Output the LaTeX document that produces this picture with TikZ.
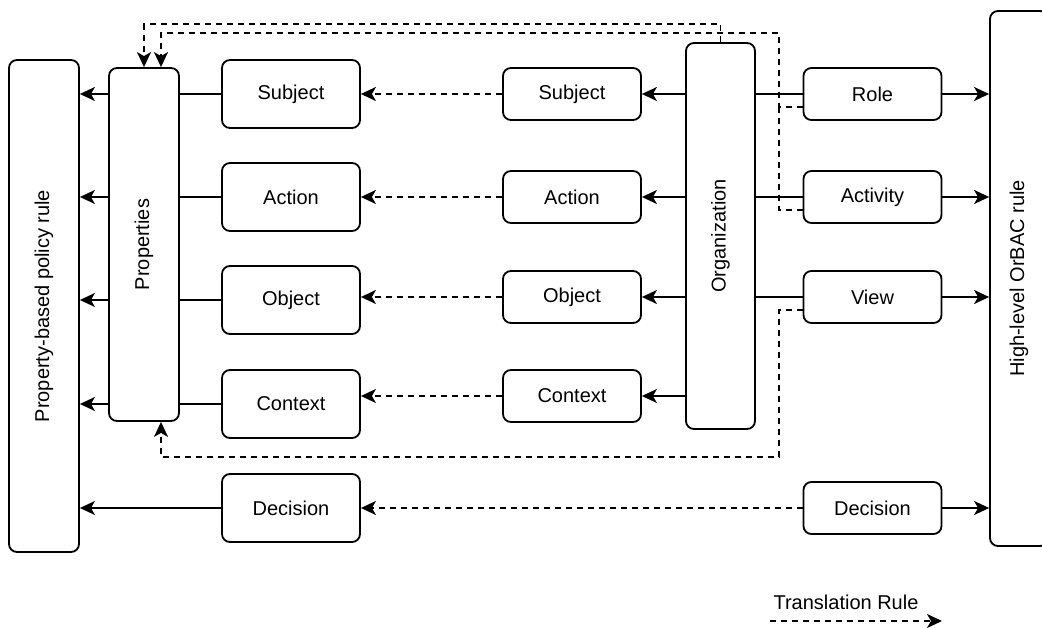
\documentclass[tikz,border=0pt]{standalone}
\usepackage{fontspec}
\setmainfont{Liberation Sans}
\usepackage{graphicx}
\usetikzlibrary{arrows.meta, positioning}

\begin{document}
\begin{tikzpicture}[x=1pt, y=-1pt, line width=1.8pt,
		box/.style={draw, rounded corners=8pt, inner sep=0pt, font=\fontsize{20}{24}\selectfont},
		item/.style={box, minimum width=138pt, minimum height=68pt},
		small/.style={box, minimum width=138pt, minimum height=52pt},
		column/.style={box, minimum width=70pt},
		link/.style={-{Stealth[length=15pt, width=14pt, inset=4pt]}},
		trans/.style={link, dash pattern=on 6pt off 5pt}]
				\useasboundingbox (0,0) rectangle (1042,628);

				\node[column, minimum height=492pt] (rule) at (44,306) {\rotatebox{90}{Property-based policy rule}};
				\node[column, minimum height=353pt] (props) at (144,244.5) {\rotatebox{90}{Properties}};
				\node[item] (lsub) at (291,94) {Subject};
				\node[item] (lact) at (291,197) {Action};
				\node[item] (lobj) at (291,300) {Object};
				\node[item] (lctx) at (291,404) {Context};
				\node[item] (ldec) at (291,508) {Decision};

				\node[small] (rsub) at (572,94) {Subject};
				\node[small] (ract) at (572,197) {Action};
				\node[small] (robj) at (572,297) {Object};
				\node[small] (rctx) at (572,396) {Context};
				\node[column, minimum width=69pt, minimum height=386pt] (org) at (720.5,236) {\rotatebox{90}{Organization}};

				\node[small] (role) at (872.5,94) {Role};
				\node[small] (act) at (872.5,197) {Activity};
				\node[small] (view) at (872.5,297) {View};
				\node[small] (rdec) at (872.5,508) {Decision};
				\node[column, minimum width=58pt, minimum height=535pt] (orbac) at (1019,278.5) {\rotatebox{90}{High-level OrBAC rule}};

				\foreach \l/\r in {lsub/rsub, lact/ract, lobj/robj, lctx/rctx} {
					\draw[link] (\r.east -| org.west) -- (\r.east);
					\draw[trans] (\r.west) -- (\r.west -| \l.east);
					\draw (\l.west) -- (\l.west -| props.east);
					\draw[link] (\l.west -| props.west) -- (\l.west -| rule.east);
				}
				\foreach \n in {role, act, view} {
					\draw (\n.west -| org.east) -- (\n.west);
					\draw[link] (\n.east) -- (\n.east -| orbac.west);
				}
				\draw[link] (rdec.east) -- (rdec.east -| orbac.west);
				\draw[trans] (rdec.west) -- (rdec.west -| ldec.east);
				\draw[link] (ldec.west) -- (ldec.west -| rule.east);

				\coordinate (upper) at (779,33);
				\coordinate (join) at (779,107);
				\coordinate (lower) at (779,457);
				\draw[trans] (org.north) -- ++(0,-18) -| (props.north);
				\draw[trans] ([yshift=-13pt]role.west) -| (upper) -| ([xshift=17pt]props.north);
				\draw[trans, -] ([yshift=-13pt]act.west) -| (join);
				\draw[trans] ([yshift=-13pt]view.west) -| (lower) -| ([xshift=17pt]props.south);

				\node[font=\fontsize{20}{24}\selectfont] (legend) at (846,602) {Translation Rule};
				\coordinate (keyA) at (770,621);
				\coordinate (keyB) at (942,621);
				\draw[trans] (keyA) -- (keyB);

			\end{tikzpicture}
\end{document}
